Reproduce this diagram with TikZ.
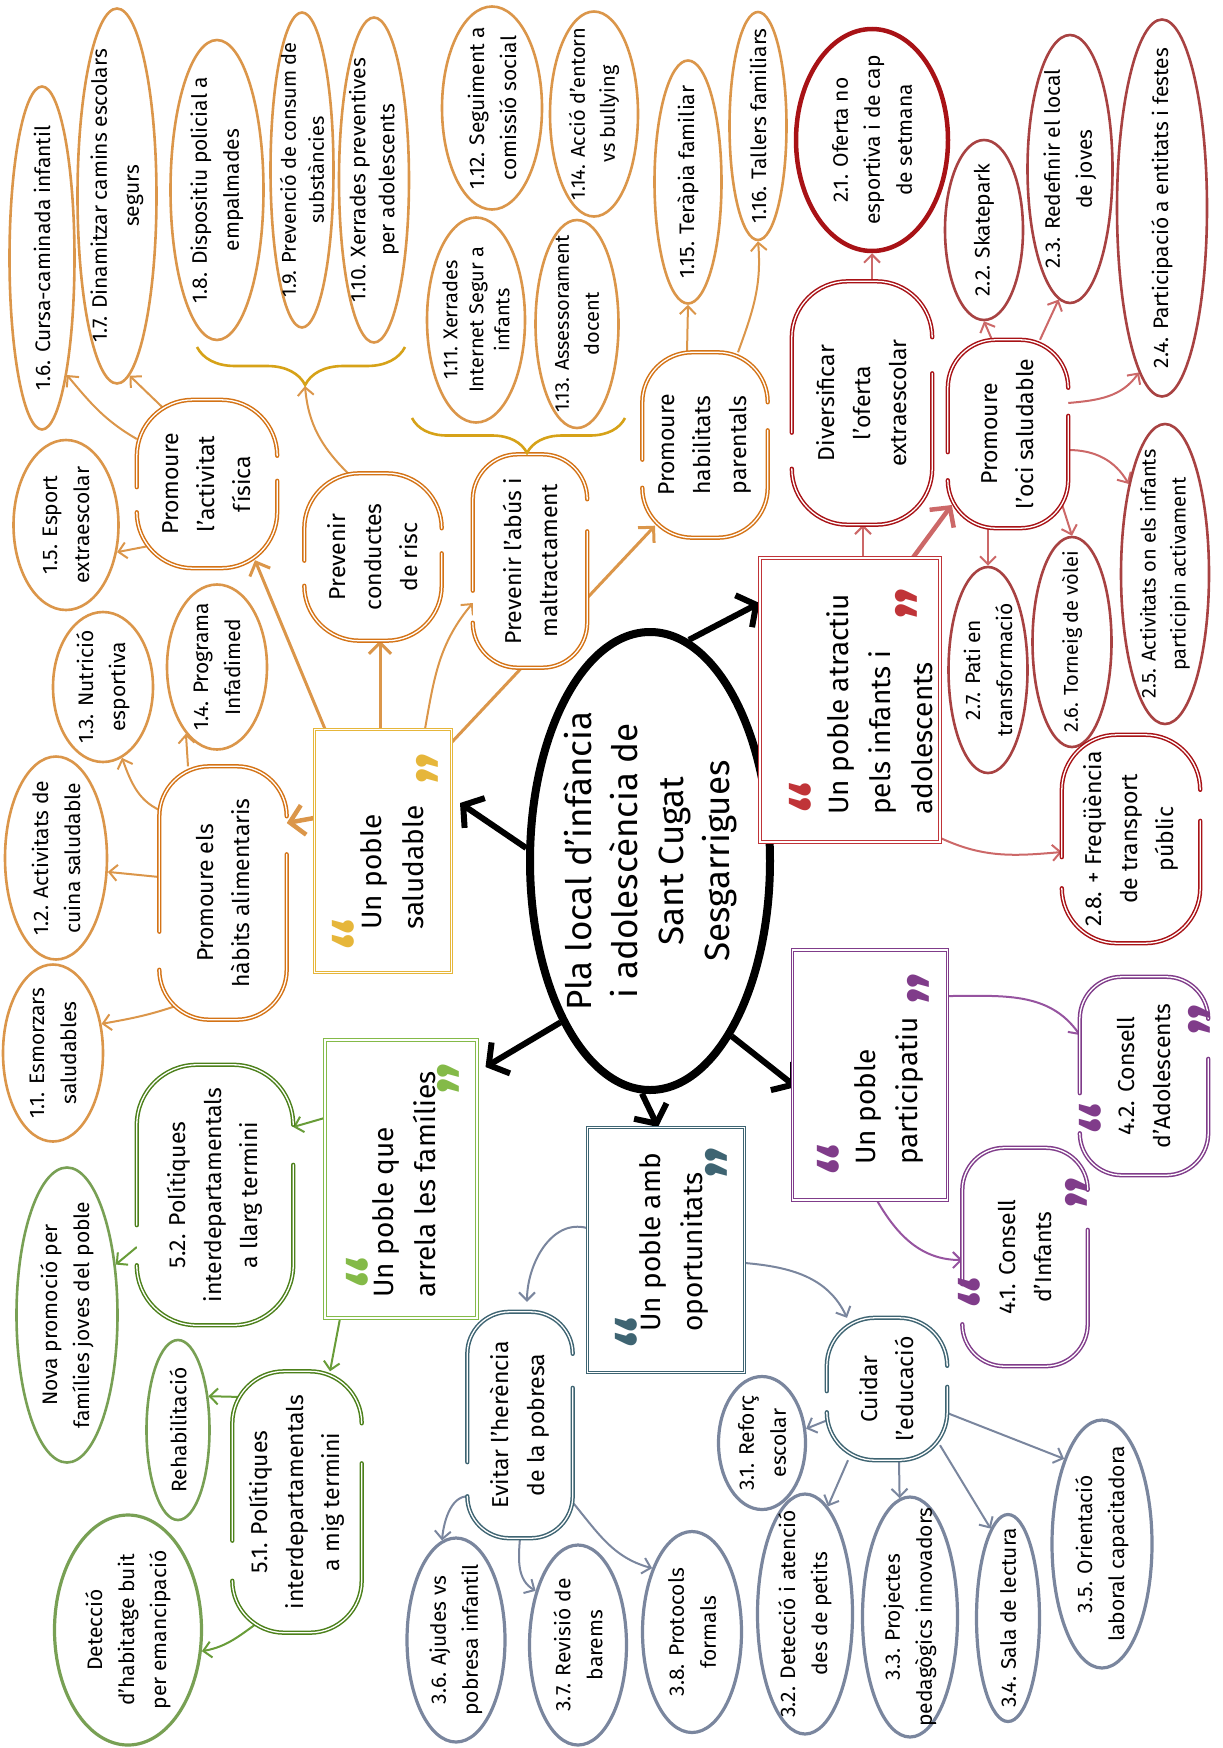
\documentclass[tikz,border=0pt]{standalone}
\usepackage{fontspec}
\setmainfont{Fira Sans}
\usetikzlibrary{arrows.meta,calc,shapes.geometric,backgrounds,decorations.pathreplacing}

\definecolor{OrgLeaf}{RGB}{219,150,74}
\definecolor{OrgSub}{RGB}{212,115,22}
\definecolor{YelBox}{RGB}{230,182,58}
\definecolor{BraceClr}{RGB}{214,162,24}
\definecolor{RedBox}{RGB}{192,52,56}
\definecolor{RedSub}{RGB}{168,18,22}
\definecolor{RedLeaf}{RGB}{168,66,66}
\definecolor{RedLine}{RGB}{204,104,104}
\definecolor{PurClr}{RGB}{128,60,138}
\definecolor{PurLine}{RGB}{150,84,160}
\definecolor{TealClr}{RGB}{62,100,114}
\definecolor{BlueLeaf}{RGB}{122,134,158}
\definecolor{GrnBox}{RGB}{132,186,72}
\definecolor{GrnSub}{RGB}{76,128,26}
\definecolor{GrnLeaf}{RGB}{120,160,84}
\definecolor{GrnLine}{RGB}{104,156,56}

\newcommand\leaffont{\fontsize{21}{32}\selectfont}
\newcommand\subfont{\fontsize{23}{36}\selectfont}
\newcommand\boxfont{\fontsize{28}{42}\selectfont}
\newcommand\plafont{\fontsize{35}{46}\selectfont}
\newcommand\quotefont{\fontsize{72}{72}\selectfont\bfseries}

% open border of a subtopic: node, corner radius, radius+gap, colour
\newcommand\gapborder[4]{%
  \draw[subline=#4,rounded corners=#2]
    ($(#1.south east)!#2!(#1.south west)$) -- (#1.south east) -- (#1.north east)
    -- ($(#1.north west)!#3!(#1.north east)$);
  \draw[subline=#4,rounded corners=#2]
    ($(#1.north west)!#2!(#1.north east)$) -- (#1.north west) -- (#1.south west)
    -- ($(#1.south east)!#3!(#1.south west)$);
}

\tikzset{
  wh/.style 2 args={minimum height=#1pt,minimum width=#2pt},
  leaf/.style={ellipse,draw=#1,line width=2.6pt,fill=white,rotate=90,
    align=center,inner sep=-60pt,font=\leaffont},
  subtopic/.style={rectangle,fill=white,rotate=90,align=center,
    inner sep=-60pt,font=\subfont},
  subline/.style={draw=#1,line width=1.5pt,double=white,
    double distance=1.3pt,line cap=round},
  mainbox/.style={rectangle,draw=#1,line width=1pt,double=white,
    double distance=1.8pt,fill=white,rotate=90},
  boxtext/.style={rotate=90,anchor=west,align=left,inner sep=0pt,font=\boxfont},
  qmark/.style={xshift=15pt,rotate=90,inner sep=0pt,text=#1,font=\quotefont},
  link/.style={draw=#1,line width=2pt,-{Straight Barb[length=8pt,width=16pt]}},
  midlink/.style={draw=#1,line width=3pt,-{Straight Barb[length=11pt,width=22pt]}},
  thicklink/.style={draw=#1,line width=4.5pt,-{Straight Barb[length=14pt,width=30pt]}},
  mainlink/.style={draw=black,line width=6pt,-{Straight Barb[length=14pt,width=36pt]}},
  gbrace/.style 2 args={decorate,decoration={brace,mirror,amplitude=#1pt,aspect=#2},
    draw=BraceClr,line width=2.6pt},
}

\begin{document}
\begin{tikzpicture}[x=1pt,y=-1pt]
\useasboundingbox (0,0) rectangle (1223,1748);

% centre
\node[ellipse,draw=black,line width=8pt,fill=white,rotate=90,align=center,
  inner sep=-60pt,font=\plafont,wh={240}{458}] (pla) at (650,861)
  {Pla local d'infància\\i adolescència de\\Sant Cugat\\Sesgarrigues};

% main boxes
\node[mainbox=YelBox,wh={137}{243}] (ybox) at (383,851) {};
\node[mainbox=RedBox,wh={180}{284}] (rbox) at (850,700) {};
\node[mainbox=PurClr,wh={155}{250}] (pbox) at (870,1075) {};
\node[mainbox=TealClr,wh={157}{245}] (tbox) at (666,1250) {};
\node[mainbox=GrnBox,wh={152}{278}] (gbox) at (401,1179) {};

\node[boxtext] (ytext) at (392,930) {Un poble\\saludable};
\node[boxtext] (rtext) at (880,815) {Un poble atractiu\\pels infants i\\adolescents};
\node[boxtext] (ptext) at (889,1165) {Un poble\\participatiu};
\node[boxtext] (ttext) at (674,1332) {Un poble amb\\oportunitats};
\node[boxtext] (gtext) at (404,1298) {Un poble que\\arrela les famílies};

% leaves: Un poble saludable
\node[leaf=OrgLeaf,wh={100}{177}] (l11) at (53,1053) {1.1. Esmorzars\\saludables};
\node[leaf=OrgLeaf,wh={102}{203}] (l12) at (56,858) {1.2. Activitats de\\cuina saludable};
\node[leaf=OrgLeaf,wh={100}{150}] (l13) at (103,687) {1.3. Nutrició\\esportiva};
\node[leaf=OrgLeaf,wh={100}{165}] (l14) at (217,667) {1.4. Programa\\Infadimed};
\node[leaf=OrgLeaf,wh={105}{170}] (l15) at (66,525) {1.5. Esport\\extraescolar};
\node[leaf=OrgLeaf,wh={65}{343}] (l16) at (42,258) {1.6. Cursa-caminada infantil};
\node[leaf=OrgLeaf,wh={79}{375}] (l17) at (117,196) {1.7. Dinamitzar camins escolars\\segurs};
\node[leaf=OrgLeaf,wh={93}{300}] (l18) at (217,190) {1.8. Dispositiu policial a\\empalmades};
\node[leaf=OrgLeaf,wh={63}{315},font=\fontsize{20}{28}\selectfont] (l19) at (302,170) {1.9. Prevenció de consum de\\substàncies};
\node[leaf=OrgLeaf,wh={70}{325},font=\fontsize{21}{29}\selectfont] (l110) at (374,180) {1.10. Xerrades preventives\\per adolescents};
\node[leaf=OrgLeaf,wh={98}{205},font=\fontsize{20}{26}\selectfont] (l111) at (476,320) {1.11. Xerrades\\Internet Segur a\\infants};
\node[leaf=OrgLeaf,wh={100}{203}] (l112) at (492,108) {1.12. Seguiment a\\comissió social};
\node[leaf=OrgLeaf,wh={83}{208},font=\fontsize{20}{30}\selectfont] (l113) at (577,324) {1.13. Assessorament\\docent};
\node[leaf=OrgLeaf,wh={88}{205},font=\fontsize{20}{30}\selectfont] (l114) at (594,114) {1.14. Acció d'entorn\\vs bullying};
\node[leaf=OrgLeaf,wh={67}{243}] (l115) at (688,182) {1.15. Teràpia familiar};
\node[leaf=OrgLeaf,wh={57}{228}] (l116) at (758,126) {1.16. Tallers familiars};

% leaves: Un poble atractiu
\node[leaf=RedSub,line width=4.5pt,wh={152}{222}] (l21) at (872,140) {2.1. Oferta no\\esportiva i de cap\\de setmana};
\node[leaf=RedLeaf,wh={78}{180}] (l22) at (984,230) {2.2. Skatepark};
\node[leaf=RedLeaf,wh={85}{268}] (l23) at (1070,169) {2.3. Redefinir el local\\de joves};
\node[leaf=RedLeaf,wh={90}{377}] (l24) at (1162,208) {2.4. Participació a entitats i festes};
\node[leaf=RedLeaf,wh={88}{300},font=\fontsize{20}{30}\selectfont] (l25) at (1165,574) {2.5. Activitats on els infants\\participin activament};
\node[leaf=RedLeaf,wh={79}{210},font=\fontsize{20}{30}\selectfont] (l26) at (1072,642) {2.6. Torneig de vòlei};
\node[leaf=RedLeaf,wh={79}{206}] (l27) at (988,670) {2.7. Pati en\\transformació};

% leaves: Un poble amb oportunitats
\node[leaf=BlueLeaf,line width=3.2pt,wh={87}{133}] (l31) at (762,1443) {3.1. Reforç\\escolar};
\node[leaf=BlueLeaf,line width=3.2pt,wh={95}{240}] (l32) at (805,1614) {3.2. Detecció i atenció\\des de petits};
\node[leaf=BlueLeaf,line width=3.2pt,wh={95}{240}] (l33) at (910,1617) {3.3. Projectes\\pedagògics innovadors};
\node[leaf=BlueLeaf,line width=3.2pt,wh={63}{207}] (l34) at (1008,1618) {3.4. Sala de lectura};
\node[leaf=BlueLeaf,line width=3.2pt,wh={100}{248}] (l35) at (1102,1544) {3.5. Orientació\\laboral capacitadora};
\node[leaf=BlueLeaf,line width=3.2pt,wh={98}{204}] (l36) at (456,1640) {3.6. Ajudes vs\\pobresa infantil};
\node[leaf=BlueLeaf,line width=3.2pt,wh={97}{200}] (l37) at (578,1645) {3.7. Revisió de\\barems};
\node[leaf=BlueLeaf,line width=3.2pt,wh={99}{201}] (l38) at (692,1632) {3.8. Protocols\\formals};

% leaves: Un poble que arrela les famílies
\node[leaf=GrnLeaf,wh={101}{295}] (nova) at (67,1315) {Nova promoció per\\famílies joves del poble};
\node[leaf=GrnLeaf,wh={63}{180}] (rehab) at (178,1430) {Rehabilitació};
\node[leaf=GrnLeaf,line width=3.2pt,wh={147}{230}] (habit) at (128,1630) {Detecció\\d'habitatge buit\\per emancipació};

% subtopics
\node[subtopic,wh={140}{168},rounded corners=56pt] (act) at (207,484) {Promoure\\l'activitat\\física};
\node[subtopic,wh={127}{253},rounded corners=50pt] (hab) at (223,893) {Promoure els\\hàbits alimentaris};
\node[subtopic,wh={137}{167},rounded corners=55pt] (cond) at (373,557) {Prevenir\\conductes\\de risc};
\node[subtopic,wh={114}{213},rounded corners=45pt] (abus) at (530,561) {Prevenir l'abús i\\maltractament};
\node[subtopic,wh={125}{185},rounded corners=50pt] (par) at (705,445) {Promoure\\habilitats\\parentals};
\node[subtopic,wh={140}{243},rounded corners=56pt] (div) at (862,403) {Diversificar\\l'oferta\\extraescolar};
\node[subtopic,wh={120}{188},rounded corners=48pt] (oci) at (1008,434) {Promoure\\l'oci saludable};
\node[subtopic,wh={138}{208},rounded corners=55pt] (freq) at (1131,839) {2.8. + Freqüència\\de transport\\públic};
\node[subtopic,wh={128}{198},rounded corners=42pt] (c42) at (1144,1076) {4.2. Consell\\d'Adolescents};
\node[subtopic,wh={125}{218},rounded corners=42pt] (c41) at (1025,1257) {4.1. Consell\\d'Infants};
\node[subtopic,wh={105}{226},rounded corners=42pt] (evi) at (520,1425) {Evitar l'herència\\de la pobresa};
\node[subtopic,wh={120}{142},rounded corners=48pt] (cui) at (887,1389) {Cuidar\\l'educació};
\node[subtopic,wh={156}{260},rounded corners=60pt] (p52) at (215,1195) {5.2. Polítiques\\interdepartamentals\\a llarg termini};
\node[subtopic,wh={129}{261},rounded corners=52pt] (p51) at (297,1502) {5.1. Polítiques\\interdepartamentals\\a mig termini};

\gapborder{act}{56pt}{81pt}{OrgSub}
\gapborder{hab}{50pt}{88pt}{OrgSub}
\gapborder{cond}{55pt}{80pt}{OrgSub}
\gapborder{abus}{45pt}{77pt}{OrgSub}
\gapborder{par}{50pt}{78pt}{OrgSub}
\gapborder{div}{56pt}{92pt}{RedSub}
\gapborder{oci}{48pt}{76pt}{RedSub}
\gapborder{freq}{55pt}{86pt}{RedSub}
\gapborder{c42}{42pt}{82pt}{PurClr}
\gapborder{c41}{42pt}{82pt}{PurClr}
\gapborder{evi}{42pt}{76pt}{TealClr}
\gapborder{cui}{48pt}{69pt}{TealClr}
\gapborder{p52}{60pt}{100pt}{GrnSub}
\gapborder{p51}{52pt}{92pt}{GrnSub}

% braces
\draw[gbrace={38}{0.52}] (197,347) -- (405,347);
\draw[gbrace={35}{0.54}] (412,418) -- (625,418);
\coordinate (br1) at (305,386);

% quote marks
\node[qmark=YelBox] (yq1) at (345,934) {“};
\node[qmark=YelBox] (yq2) at (429,768) {”};
\node[qmark=RedBox] (rq1) at (802,797) {“};
\node[qmark=RedBox] (rq2) at (908,603) {”};
\node[qmark=PurClr] (pq1) at (830,1159) {“};
\node[qmark=PurClr] (pq2) at (920,988) {”};
\node[qmark=TealClr] (tq1) at (628,1332) {“};
\node[qmark=TealClr] (tq2) at (718,1162) {”};
\node[qmark=GrnBox] (gq1) at (359,1272) {“};
\node[qmark=GrnBox] (gq2) at (450,1078) {”};
\node[qmark=PurClr] (c42q1) at (1092,1118) {“};
\node[qmark=PurClr] (c42q2) at (1201,1019) {”};
\node[qmark=PurClr] (c41q1) at (971,1292) {“};
\node[qmark=PurClr] (c41q2) at (1078,1192) {”};

\begin{scope}[on background layer]
% centre to main boxes
\draw[mainlink] (pla.84) -- ([shift={(8,-48)}]ybox.south);
\draw[mainlink] (pla.350) -- ([shift={(0,-97)}]rbox.north);
\draw[mainlink] (pla.151) -- ([shift={(8,-112)}]gbox.south);
\draw[mainlink] (pla.178) -- ([shift={(-8,0)}]tbox.east);
\draw[mainlink] (pla.205) -- ([shift={(4,12)}]pbox.north);

% Un poble saludable
\draw[thicklink=OrgLeaf] ([shift={(0,-33)}]ybox.north) -- ([shift={(0,-70)}]hab.south);
\draw[midlink=OrgLeaf] ([shift={(-58,0)}]ybox.east) -- ([shift={(48,-8)}]act.west);
\draw[midlink=OrgLeaf] ([shift={(-3,0)}]ybox.east) -- ([shift={(7,0)}]cond.west);
\draw[link=OrgLeaf] ([shift={(42,0)}]ybox.east) to[out=80,in=230] ([shift={(0,42)}]abus.north);
\draw[midlink=OrgLeaf] ([shift={(0,-109)}]ybox.south) -- ([shift={(-50,-12)}]par.west);
\draw[link=OrgLeaf] ([shift={(12,62)}]act.north) -- (l15.242);
\draw[link=OrgLeaf] ([shift={(0,-45)}]act.north) to[out=150,in=-50] (l16.192);
\draw[link=OrgLeaf] ([shift={(-44,8)}]act.east) -- (l17.184);
\draw[link=OrgLeaf] ([shift={(5,-81)}]hab.north) to[out=160,in=-70] (l13.195);
\draw[link=OrgLeaf] ([shift={(-35,0)}]hab.east) -- (l14.155);
\draw[link=OrgLeaf] ([shift={(0,-16)}]hab.north) -- (l12.255);
\draw[link=OrgLeaf] ([shift={(-38,-17)}]hab.west) to[out=200,in=10] (l11.301);
\draw[link=OrgLeaf] ([shift={(-25,0)}]cond.east) to[out=135,in=-85] (br1);
\draw[link=OrgLeaf] ([shift={(-18,0)}]par.east) -- (l115.180);
\draw[link=OrgLeaf] ([shift={(33,0)}]par.east) to[out=70,in=-85] (l116.180);

% Un poble atractiu
\draw[link=RedLine] ([shift={(13,0)}]rbox.east) -- ([shift={(1,0)}]div.west);
\draw[thicklink=RedLine] ([shift={(63,0)}]rbox.east) -- ([shift={(4,71)}]oci.north);
\draw[link=RedLine] ([shift={(10,0)}]div.east) -- (l21.180);
\draw[link=RedLine] ([shift={(-16,0)}]oci.east) -- (l22.180);
\draw[link=RedLine] ([shift={(32,0)}]oci.east) -- (l23.175);
\draw[link=RedLine] ([shift={(0,-31)}]oci.south) to[out=5,in=235] (l24.172);
\draw[link=RedLine] ([shift={(-20,0)}]oci.west) -- (l27.0);
\draw[link=RedLine] ([shift={(-6,71)}]oci.south) -- (l26.0);
\draw[link=RedLine] ([shift={(0,16)}]oci.south) to[out=0,in=120] (l25.22);
\draw[link=RedLine] ([shift={(0,138)}]rbox.south) to[out=-25,in=185] ([shift={(0,13)}]freq.north);

% Un poble participatiu
\draw[link=PurLine] ([shift={(0,-79)}]pbox.south) to[out=0,in=125] ([shift={(0,-41)}]c42.north);
\draw[link=PurLine] ([shift={(7,0)}]pbox.west) to[out=-60,in=180] ([shift={(0,3)}]c41.north);

% Un poble amb oportunitats
\draw[link=BlueLeaf] ([shift={(0,-22)}]tbox.north) to[out=165,in=90] ([shift={(7,-10)}]evi.east);
\draw[link=BlueLeaf] ([shift={(0,13)}]tbox.south) to[out=-5,in=115] ([shift={(-40,0)}]cui.east);
\draw[link=BlueLeaf] ([shift={(5,72)}]evi.north) to[out=165,in=85] (l36.8);
\draw[link=BlueLeaf] (evi.west) to[out=-95,in=150] (l37.38);
\draw[link=BlueLeaf] ([shift={(-2,75)}]evi.south) to[out=-50,in=165] (l38.32);
\draw[link=BlueLeaf] ([shift={(1,31)}]cui.north) -- (l31.288);
\draw[link=BlueLeaf] ([shift={(-39,0)}]cui.west) -- (l32.348);
\draw[link=BlueLeaf] ([shift={(12,0)}]cui.west) -- (l33.5);
\draw[link=BlueLeaf] ([shift={(53,-15)}]cui.west) -- (l34.11);
\draw[link=BlueLeaf] ([shift={(0,24)}]cui.south) -- (l35.24);

% Un poble que arrela les famílies
\draw[link=GrnLine] ([shift={(0,-61)}]gbox.north) -- ([shift={(0,-68)}]p52.south);
\draw[link=GrnLine] ([shift={(-61,0)}]gbox.west) -- ([shift={(33,0)}]p51.east);
\draw[link=GrnLine] ([shift={(0,52)}]p52.north) -- (nova.316);
\draw[link=GrnLine] ([shift={(10,-105)}]p51.north) -- (rehab.318);
\draw[link=GrnLine] ([shift={(-35,-13)}]p51.west) to[out=215,in=10] (habit.254);
\end{scope}
\end{tikzpicture}
\end{document}
